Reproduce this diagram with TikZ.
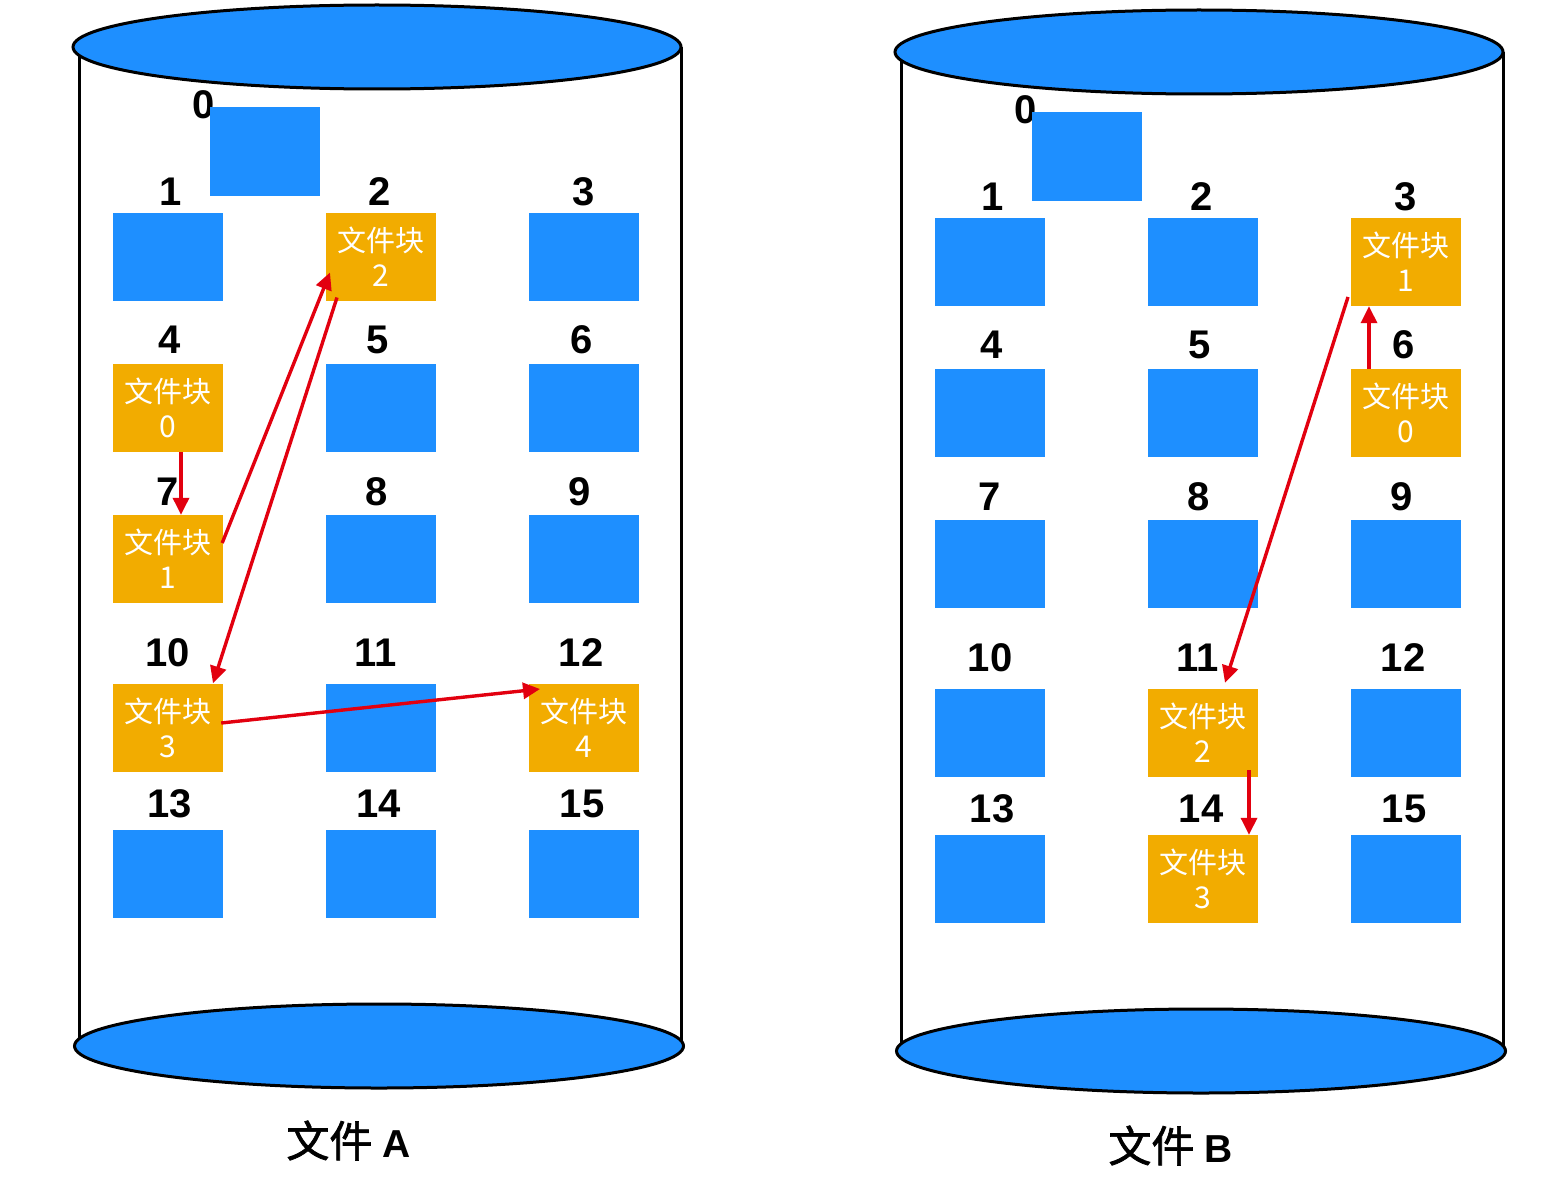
\documentclass[tikz,border=0pt]{standalone}
\usepackage{fontspec}
\setmainfont{Liberation Sans}
\newfontfamily\cjk{Noto Sans CJK SC}
\newfontfamily\cjkmed[FakeBold=1.6]{Noto Sans CJK SC}
\newfontfamily\latbold{Liberation Sans Bold}
\usetikzlibrary{arrows.meta,calc}
\definecolor{diskblue}{HTML}{1E8FFF}
\definecolor{blockorange}{HTML}{F2AC00}
\definecolor{linkred}{HTML}{E2000F}
\tikzset{
  blk/.style={fill=diskblue,minimum width=110pt,minimum height=88pt,inner sep=0pt},
  fblk/.style={fill=blockorange,minimum width=110pt,minimum height=88pt,inner sep=0pt,
    text=white,align=center,font=\cjk\fontsize{29}{35}\selectfont},
  num/.style={font=\latbold\fontsize{40}{48}\selectfont,inner sep=0pt},
  diskcap/.style={fill=diskblue,draw=black,line width=3pt},
  diskside/.style={draw=black,line width=3pt},
  link/.style={draw=linkred,line width=3.4pt,-{Triangle[length=17pt,width=16pt]}},
}
\newcommand\bbox[3]{\node[blk] (#1) at (#2,#3) {};}
\newcommand\obox[4]{\node[fblk] (#1) at (#2,#3) {文件块\\{\fontsize{30}{35}\selectfont #4}};}
\newcommand\lbl[4]{\node[num] (#1) at (#2,#3) {#4};}
\newcommand\disk[1]{%
  \draw[diskside] (79,47) -- (79,1046);
  \draw[diskside] (681.5,47) -- (681.5,1046);
  \draw[diskcap] (377,47) ellipse [x radius=304, y radius=42];
  \draw[diskcap] (379,1046) ellipse [x radius=304.5, y radius=42];
  \lbl{#1L0}{204}{105}{0}
  \lbl{#1L1}{171}{192}{1}
  \lbl{#1L2}{380}{192}{2}
  \lbl{#1L3}{584}{192}{3}
  \lbl{#1L4}{170}{340}{4}
  \lbl{#1L5}{378}{340}{5}
  \lbl{#1L6}{582}{340}{6}
  \lbl{#1L7}{168}{492}{7}
  \lbl{#1L8}{377}{492}{8}
  \lbl{#1L9}{580}{492}{9}
  \lbl{#1L10}{168}{653}{10}
  \lbl{#1L11}{376}{653}{11}
  \lbl{#1L12}{581}{653}{12}
  \lbl{#1L13}{170}{804}{13}
  \lbl{#1L14}{379}{804}{14}
  \lbl{#1L15}{582}{804}{15}
}
\begin{document}
\begin{tikzpicture}[x=1pt,y=-1pt]
\useasboundingbox[fill=white] (0,0) rectangle (1562,1196);
% ---------- file A ----------
\begin{scope}
  \disk{A}
  \bbox{A0}{265}{151.5}
  \bbox{A1}{168}{257}
  \obox{A2}{380.5}{257}{2}
  \bbox{A3}{583.5}{257}
  \obox{A4}{168}{408}{0}
  \bbox{A5}{380.5}{408}
  \bbox{A6}{583.5}{408}
  \obox{A7}{168}{559}{1}
  \bbox{A8}{380.5}{559}
  \bbox{A9}{583.5}{559}
  \obox{A10}{168}{727.5}{3}
  \bbox{A11}{380.5}{727.5}
  \obox{A12}{583.5}{727.5}{4}
  \bbox{A13}{168}{874}
  \bbox{A14}{380.5}{874}
  \bbox{A15}{583.5}{874}
  \node[anchor=base,inner sep=0pt] (capA) at (348.5,1157)
    {{\cjkmed\fontsize{43}{50}\selectfont 文件}\hspace{10pt}{\latbold\fontsize{39}{50}\selectfont A}};
\end{scope}
% ---------- file B ----------
\begin{scope}[shift={(822,5)}]
  \disk{B}
  \bbox{B0}{265}{151.5}
  \bbox{B1}{168}{257}
  \bbox{B2}{380.5}{257}
  \obox{B3}{583.5}{257}{1}
  \bbox{B4}{168}{408}
  \bbox{B5}{380.5}{408}
  \obox{B6}{583.5}{408}{0}
  \bbox{B7}{168}{559}
  \bbox{B8}{380.5}{559}
  \bbox{B9}{583.5}{559}
  \bbox{B10}{168}{727.5}
  \obox{B11}{380.5}{727.5}{2}
  \bbox{B12}{583.5}{727.5}
  \bbox{B13}{168}{874}
  \obox{B14}{380.5}{874}{3}
  \bbox{B15}{583.5}{874}
  \node[anchor=base,inner sep=0pt] (capB) at (348.5,1157)
    {{\cjkmed\fontsize{43}{50}\selectfont 文件}\hspace{10pt}{\latbold\fontsize{39}{50}\selectfont B}};
\end{scope}
% ---------- links A ----------
\draw[link] ($(A4.south)+(13,0)$) -- ($(A7.north)+(13,0)$);
\draw[link] ($(A7.east)+(-1,-16)$) -- ($(A2.center)+(-50.5,15.5)$);
\draw[link] ($(A2.center)+(-43.5,40.5)$) -- ($(A10.north)+(45,0)$);
\draw[link] ($(A10.east)+(-2,-4.5)$) -- ($(A12.center)+(-43.5,-38.5)$);
% ---------- links B ----------
\draw[link] ($(B6.north)+(-36.5,0)$) -- ($(B3.south)+(-36.5,0)$);
\draw[link] ($(B3.center)+(-57.5,35)$) -- ($(B11.north)+(22.5,-5.5)$);
\draw[link] ($(B11.south)+(46.5,-6.5)$) -- ($(B14.north)+(46.5,0)$);
\end{tikzpicture}
\end{document}
